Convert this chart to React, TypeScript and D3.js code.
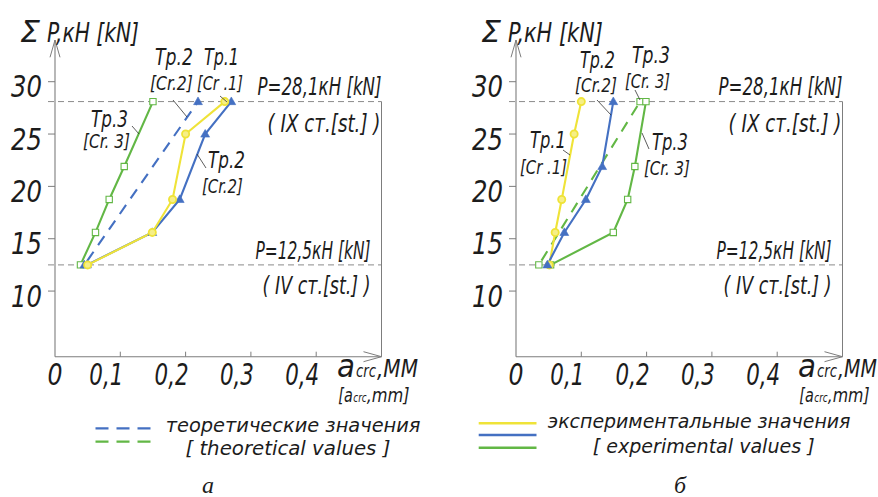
import * as d3 from "d3";
import React, { useLayoutEffect, useRef, useState } from "react";

// load levels, kN (y) and crack width, mm (x)
const yTicks = [10, 15, 20, 25, 30];
const xTicks = [0, 0.1, 0.2, 0.3, 0.4];
const xTickLabels = ["0", "0,1", "0,2", "0,3", "0,4"];
const stageLoads = [28.1, 12.5];
const stageLabels = [
  ["P=28,1кН [kN]", "( IX ст.[st.] )"],
  ["P=12,5кН [kN]", "( IV ст.[st.] )"],
];

// panel а
const aTr1Load = [12.5, 15.6, 18.75, 25, 28.1];
const aTr1Crack = [0.05, 0.149, 0.18, 0.2, 0.26];
const aTr2Load = [12.5, 15.6, 18.75, 25, 28.1];
const aTr2Crack = [0.049, 0.149, 0.191, 0.23, 0.27];
const aTr3Load = [12.5, 15.6, 18.75, 21.9, 28.1];
const aTr3Crack = [0.039, 0.062, 0.083, 0.106, 0.15];
const aTheoryLoad = [12.5, 28.1];
const aTheoryCrack = [0.045, 0.219];

// panel б
const bTr1Load = [12.5, 15.6, 18.75, 25, 28.1];
const bTr1Crack = [0.051, 0.06, 0.07, 0.089, 0.1];
const bTr2Load = [12.5, 15.6, 18.75, 21.9, 28.1];
const bTr2Crack = [0.048, 0.074, 0.107, 0.132, 0.149];
const bTr3Load = [12.5, 15.6, 18.75, 21.9, 28.1];
const bTr3Crack = [0.053, 0.149, 0.171, 0.182, 0.199];
const bTheoryLoad = [12.5, 28.1];
const bTheoryCrack = [0.035, 0.19];

const BLUE = "#4470c2";
const YELLOW = "#efe338";
const GREEN = "#62b745";
const AXIS = "#7d7d7d";
const INK = "#1c1c1c";
const FONT = "'DejaVu Sans Condensed', 'DejaVu Sans', sans-serif";

const width = 878;
const height = 497;

// y scale shared by both panels
const yScale = d3.scaleLinear().domain([3.73, 30]).range([356.7, 81.7]);

type Series = {
  load: number[];
  crack: number[];
  color: string;
  marker: "circle" | "triangle" | "square";
  dashed?: boolean;
};

const panelA: Series[] = [
  { load: aTr3Load, crack: aTr3Crack, color: GREEN, marker: "square" },
  { load: aTheoryLoad, crack: aTheoryCrack, color: BLUE, marker: "triangle", dashed: true },
  { load: aTr2Load, crack: aTr2Crack, color: BLUE, marker: "triangle" },
  { load: aTr1Load, crack: aTr1Crack, color: YELLOW, marker: "circle" },
];

const panelB: Series[] = [
  { load: bTheoryLoad, crack: bTheoryCrack, color: GREEN, marker: "square", dashed: true },
  { load: bTr3Load, crack: bTr3Crack, color: GREEN, marker: "square" },
  { load: bTr1Load, crack: bTr1Crack, color: YELLOW, marker: "circle" },
  { load: bTr2Load, crack: bTr2Crack, color: BLUE, marker: "triangle" },
];

// series captions, offsets from the panel's y axis: [text, dx, baseline, width, size]
type Cap = [string, number, number, number, number];
const capsA: Cap[] = [
  ["Тр.2", 100, 65, 38, 23],
  ["[Cr.2]", 95, 90, 43, 19],
  ["Тр.1", 149, 65, 35, 23],
  ["[Cr .1]", 142, 90, 46, 19],
  ["Тр.3", 36, 127, 37, 23],
  ["[Cr. 3]", 28, 148, 47, 19],
  ["Тр.2", 153, 168, 37, 23],
  ["[Cr.2]", 147, 193, 41, 19],
];
const capsB: Cap[] = [
  ["Тр.2", 64, 68, 35, 23],
  ["[Cr.2]", 59, 92, 42, 19],
  ["Тр.3", 116, 63, 38, 23],
  ["[Cr. 3]", 109, 88, 45, 19],
  ["Тр.1", 14, 148, 36, 23],
  ["[Cr .1]", 4, 174, 47, 19],
  ["Тр.3", 136, 150, 36, 23],
  ["[Cr. 3]", 128, 175, 46, 19],
];
// leader lines [dx1, y1, dx2, y2]
const leadA = [
  [118, 100, 132, 117],
  [165, 96, 172, 102],
  [77, 126, 84, 134],
  [142, 154, 151, 168],
];
const leadB = [
  [81, 100, 95, 115],
  [119, 90, 124, 100],
  [47, 150, 54, 155],
  [126, 133, 133, 149],
];

// text squeezed horizontally to a measured width (drawing font is narrow)
function Txt({
  x,
  y,
  w,
  size,
  anchor = "start",
  family = FONT,
  children,
}: {
  x: number;
  y: number;
  w?: number;
  size: number;
  anchor?: string;
  family?: string;
  children: React.ReactNode;
}) {
  const ref = useRef<SVGTextElement>(null);
  const [sx, setSx] = useState(1);
  useLayoutEffect(() => {
    if (w && ref.current) {
      const n = ref.current.getComputedTextLength();
      if (n > 0) setSx(w / n);
    }
  }, [w, size, children]);
  return (
    <text
      ref={ref}
      transform={`translate(${x},${y}) scale(${sx},1)`}
      fontSize={size}
      textAnchor={anchor}
      fontFamily={family}
      fontStyle="italic"
      fill={INK}
    >
      {children}
    </text>
  );
}

function Marker({ type, color, x, y }: { type: string; color: string; x: number; y: number }) {
  if (type === "circle") {
    return <circle cx={x} cy={y} r={3.6} fill="#f6ef86" stroke={color} strokeWidth={1.8} />;
  }
  const sym = d3
    .symbol()
    .type(type === "triangle" ? d3.symbolTriangle : d3.symbolSquare)
    .size(type === "triangle" ? 34 : 40)();
  return (
    <path
      d={sym || ""}
      transform={`translate(${x},${y + (type === "triangle" ? 0.5 : 0)})`}
      fill={type === "triangle" ? color : "#fff"}
      stroke={color}
      strokeWidth={type === "triangle" ? 0.6 : 1.1}
    />
  );
}

function Panel({ x0, series, caps, leads }: { x0: number; series: Series[]; caps: Cap[]; leads: number[][] }) {
  const xScale = d3.scaleLinear().domain([0, 0.5]).range([x0, x0 + 326.5]);
  const yBottom = yScale.range()[0];
  const xEnd = xScale(0.5);
  const line = d3
    .line<[number, number]>()
    .x((d) => xScale(d[0]))
    .y((d) => yScale(d[1]));

  return (
    <g>
      {/* stage lines */}
      {stageLoads.map((s) => (
        <line
          key={s}
          x1={x0 - 7}
          x2={xEnd}
          y1={yScale(s)}
          y2={yScale(s)}
          stroke="#8a8a8a"
          strokeWidth={1}
          strokeDasharray="6 4"
        />
      ))}
      {/* right border */}
      <line x1={xEnd} x2={xEnd} y1={yScale(28.1)} y2={yBottom} stroke={AXIS} strokeWidth={1} />
      {/* axes */}
      <line x1={x0} x2={x0} y1={40} y2={yBottom} stroke={AXIS} strokeWidth={1.1} />
      <path d={`M${x0 - 5},57.3L${x0},40L${x0 + 5},57.3`} fill="none" stroke={AXIS} strokeWidth={1} />
      <line x1={x0} x2={xEnd} y1={yBottom} y2={yBottom} stroke={AXIS} strokeWidth={1.1} />
      <path
        d={`M${xEnd - 18},${yBottom - 5}L${xEnd},${yBottom}L${xEnd - 18},${yBottom + 5}`}
        fill="none"
        stroke={AXIS}
        strokeWidth={1}
      />
      {yTicks.map((t) => (
        <g key={t}>
          <line x1={x0 - 7} x2={x0} y1={yScale(t)} y2={yScale(t)} stroke={AXIS} strokeWidth={1} />
          <Txt x={x0 - 13} y={yScale(t) + 15.5} size={30} w={31} anchor="end">
            {t}
          </Txt>
        </g>
      ))}
      {xTicks.map((t, i) => (
        <g key={t}>
          {t > 0 && (
            <line x1={xScale(t)} x2={xScale(t)} y1={yBottom - 5} y2={yBottom} stroke={AXIS} strokeWidth={1} />
          )}
          {t === 0 ? (
            <Txt x={xScale(t)} y={385} size={30} w={15} anchor="middle">
              {xTickLabels[i]}
            </Txt>
          ) : (
            <Txt x={xScale(t) + 3} y={385} size={30} w={34} anchor="end">
              {xTickLabels[i]}
            </Txt>
          )}
        </g>
      ))}

      {/* axis titles */}
      <Txt x={x0 - 35} y={42} size={30} w={20}>
        Σ
      </Txt>
      <Txt x={x0 - 8} y={41.7} size={27} w={x0 === 55 ? 92 : 95}>
        P,кН [kN]
      </Txt>
      <Txt x={xEnd - 44.5} y={376.7} size={32} w={18}>
        a
      </Txt>
      <Txt x={xEnd - 25.5} y={376.7} size={17} w={20}>
        crc
      </Txt>
      <Txt x={xEnd - 4.5} y={376.7} size={24} w={x0 === 55 ? 41 : 39}>
        ,MM
      </Txt>
      <Txt x={xEnd - 43.2} y={401.7} size={19} w={14.4}>
        [a
      </Txt>
      <Txt x={xEnd - 28.2} y={401.7} size={13} w={13.4}>
        crc
      </Txt>
      <Txt x={xEnd - 14.8} y={401.7} size={19} w={x0 === 55 ? 43 : 42}>
        ,mm]
      </Txt>

      {/* stage labels */}
      <Txt x={xEnd} y={yScale(28.1) - 7} size={25} w={124} anchor="end">
        {stageLabels[0][0]}
      </Txt>
      <Txt x={xEnd - 1} y={yScale(28.1) + 30} size={25} w={113} anchor="end">
        {stageLabels[0][1]}
      </Txt>
      <Txt x={xEnd - 11} y={yScale(12.5) - 6} size={25} w={115} anchor="end">
        {stageLabels[1][0]}
      </Txt>
      <Txt x={xEnd - 11} y={yScale(12.5) + 29} size={25} w={108} anchor="end">
        {stageLabels[1][1]}
      </Txt>

      {/* series */}
      {series.map((s, i) => (
        <path
          key={"l" + i}
          d={line(s.crack.map((c, j) => [c, s.load[j]] as [number, number])) || ""}
          fill="none"
          stroke={s.color}
          strokeWidth={2.1}
          strokeDasharray={s.dashed ? "11 8" : undefined}
          strokeDashoffset={s.dashed ? 14 : undefined}
        />
      ))}
      {series.map((s, i) =>
        s.crack.map((c, j) => (
          <Marker key={"m" + i + "-" + j} type={s.marker} color={s.color} x={xScale(c)} y={yScale(s.load[j])} />
        ))
      )}

      {/* captions and leaders */}
      {leads.map((l, i) => (
        <line key={"ld" + i} x1={x0 + l[0]} y1={l[1]} x2={x0 + l[2]} y2={l[3]} stroke="#333" strokeWidth={0.8} />
      ))}
      {caps.map((c, i) => (
        <Txt key={"c" + i} x={x0 + c[1]} y={c[2]} w={c[3]} size={c[4]}>
          {c[0]}
        </Txt>
      ))}
    </g>
  );
}

export default function App() {
  return (
    <svg
      width={width}
      height={height}
      style={{ position: "absolute", left: 0, top: 0, background: "#fff" }}
    >
      <Panel x0={55} series={panelA} caps={capsA} leads={leadA} />
      <Panel x0={516} series={panelB} caps={capsB} leads={leadB} />

      {/* legend: theoretical */}
      <line x1={95.5} x2={151.7} y1={428.3} y2={428.3} stroke={BLUE} strokeWidth={2.2} strokeDasharray="13 8" />
      <line x1={95.5} x2={151.7} y1={441.7} y2={441.7} stroke={GREEN} strokeWidth={2.2} strokeDasharray="13 8" />
      <Txt x={165.7} y={431.7} size={20} w={255}>
        теоретические значения
      </Txt>
      <Txt x={185.4} y={455} size={20} w={205}>
        [ theoretical values ]
      </Txt>

      {/* legend: experimental */}
      <line x1={478.7} x2={536.5} y1={423.3} y2={423.3} stroke={YELLOW} strokeWidth={2.4} />
      <line x1={478.7} x2={536.5} y1={435} y2={435} stroke={BLUE} strokeWidth={2.4} />
      <line x1={478.7} x2={536.5} y1={447.7} y2={447.7} stroke={GREEN} strokeWidth={2.4} />
      <Txt x={547.8} y={428.3} size={20} w={303}>
        экспериментальные значения
      </Txt>
      <Txt x={592.7} y={453.3} size={20} w={222}>
        [ experimental values ]
      </Txt>

      <Txt x={208} y={493} size={24} anchor="middle" family="'Liberation Serif', serif">
        а
      </Txt>
      <Txt x={680} y={493} size={24} anchor="middle" family="'Liberation Serif', serif">
        б
      </Txt>
    </svg>
  );
}
